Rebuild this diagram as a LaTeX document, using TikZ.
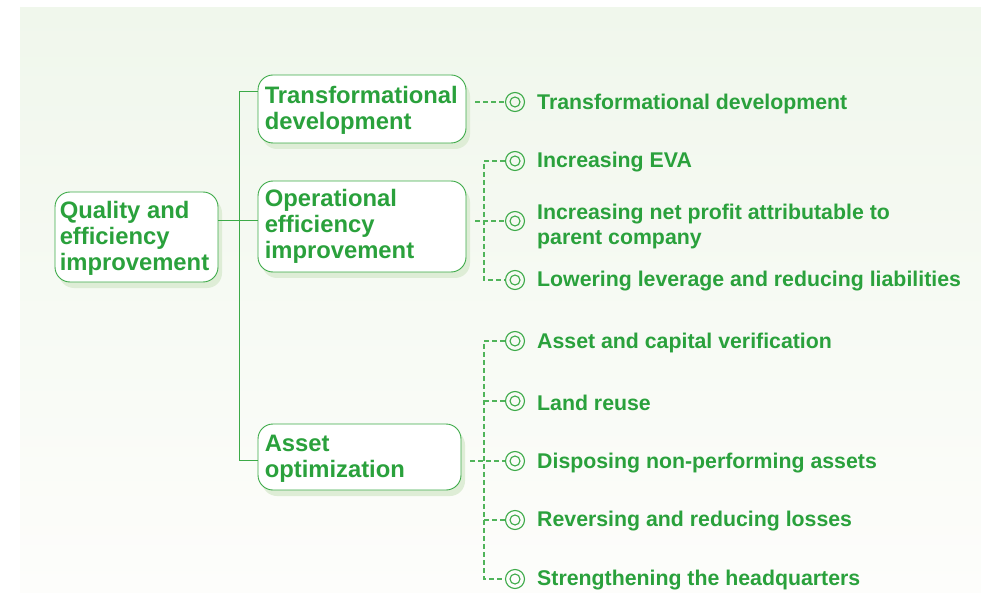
\documentclass[tikz,border=0pt]{standalone}
\usepackage{fontspec}
\setmainfont{Liberation Sans}
\usetikzlibrary{shadows}
\definecolor{gtext}{RGB}{42,161,60}
\definecolor{gline}{RGB}{60,170,72}
\definecolor{gdash}{RGB}{80,180,90}
\definecolor{bgtop}{RGB}{240,247,236}
\definecolor{bgbot}{RGB}{253,253,251}
\definecolor{gshadow}{RGB}{222,237,214}
\tikzset{
  box/.style={draw=gline, line width=0.9pt, fill=white, rounded corners=15pt,
    drop shadow={shadow xshift=4pt, shadow yshift=-6pt, fill=gshadow, opacity=1}},
  ntext/.style={text=gtext, font=\bfseries\fontsize{23.8}{26}\selectfont, align=left, inner sep=0pt},
  ltext/.style={text=gtext, font=\bfseries\fontsize{21.3}{25}\selectfont, align=left, inner sep=0pt, anchor=west},
  leaf/.style={circle, draw=gline, line width=1.1pt, minimum size=19pt, inner sep=0pt, fill=none,
    path picture={\draw[gline, line width=1.1pt] (path picture bounding box.center) circle (5pt);}},
  solidc/.style={draw=gline, line width=1pt},
  dsh/.style={draw=gdash, line width=1.1pt, dash pattern=on 4.5pt off 3.5pt}
}
\begin{document}
\begin{tikzpicture}[x=1pt,y=-1pt]
\useasboundingbox (0,0) rectangle (981,593);
\shade[top color=bgtop, bottom color=bgbot] (20,8) rectangle (981,593);

% main boxes
\node[box, minimum width=163pt, minimum height=90pt] (root) at (136.5,237) {};
\node[ntext, anchor=west] (roott) at ([xshift=5pt,yshift=-1.5pt]root.west) {Quality and\\efficiency\\improvement};

\node[box, minimum width=208pt, minimum height=68pt] (t) at (362,109) {};
\node[ntext, anchor=west] (tt) at ([xshift=7pt,yshift=-1.5pt]t.west) {Transformational\\development};

\node[box, minimum width=208pt, minimum height=91pt] (o) at (362,226.5) {};
\node[ntext, anchor=west] (ot) at ([xshift=7pt,yshift=0.5pt]o.west) {Operational\\efficiency\\improvement};

\node[box, minimum width=203pt, minimum height=66pt] (a) at (359.5,457) {};
\node[ntext, anchor=west] (at) at ([xshift=7pt,yshift=-1.5pt]a.west) {Asset\\optimization};

% solid connectors
\coordinate (jt) at (239,92);
\coordinate (jo) at (239,221);
\coordinate (ja) at (239,460);
\draw[solidc] (t.west |- jt) -- (jt) -- (ja) -- (a.west |- ja);
\draw[solidc] (root.east |- jo) -- (o.west |- jo);

% leaves
\node[leaf] (l1) at (515,102) {};
\node[leaf] (l2) at (515,161) {};
\node[leaf] (l3) at (515,221) {};
\node[leaf] (l4) at (515,280) {};
\node[leaf] (l5) at (515,341) {};
\node[leaf] (l6) at (515,401) {};
\node[leaf] (l7) at (515,461) {};
\node[leaf] (l8) at (515,520) {};
\node[leaf] (l9) at (515,579) {};

\node[ltext] (x1) at (537,103.5) {Transformational development};
\node[ltext] (x2) at (537,162.5) {Increasing EVA};
\node[ltext] (x3) at (537,226) {Increasing net profit attributable to\\parent company};
\node[ltext] (x4) at (537,281.5) {Lowering leverage and reducing liabilities};
\node[ltext] (x5) at (537,342.5) {Asset and capital verification};
\node[ltext] (x6) at (537,402.5) {Land reuse};
\node[ltext] (x7) at (537,463.5) {Disposing non-performing assets};
\node[ltext] (x8) at (537,521.5) {Reversing and reducing losses};
\node[ltext] (x9) at (537,580.5) {Strengthening the headquarters};

% dashed connectors
\coordinate (ts) at (475,102);
\draw[dsh] (ts) -- (l1.west);

\coordinate (os) at (475,221);
\coordinate (otop) at (484,161);
\coordinate (obot) at (484,280);
\draw[dsh] (l2.west) -- (otop) -- (obot) -- (l4.west);
\draw[dsh] (os) -- (l3.west);

\coordinate (as) at (470,461);
\coordinate (atop) at (484,341);
\coordinate (abot) at (484,579);
\draw[dsh] (l5.west) -- (atop) -- (abot) -- (l9.west);
\draw[dsh] (as) -- (l7.west);
\draw[dsh] (l6.west -| atop) -- (l6.west);
\draw[dsh] (l8.west -| atop) -- (l8.west);
\end{tikzpicture}
\end{document}
